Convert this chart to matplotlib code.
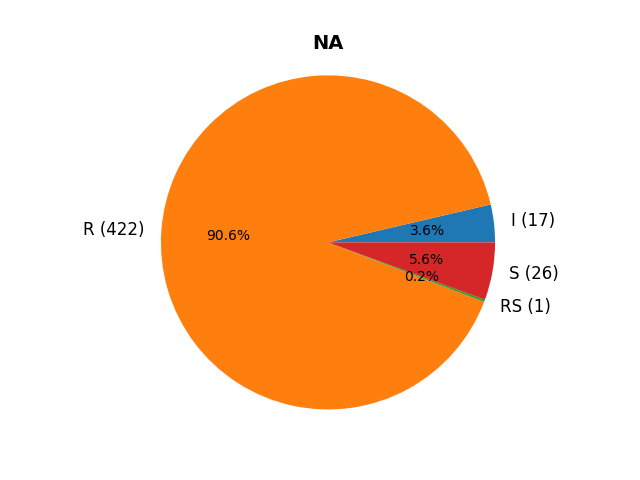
import matplotlib
matplotlib.use("Agg")
import matplotlib.pyplot as plt

categories = ["I", "R", "RS", "S"]
counts = [17, 422, 1, 26]
title = "NA"

labels = [f"{c} ({n})" for c, n in zip(categories, counts)]

fig, ax = plt.subplots(figsize=(6.4, 4.8), dpi=100)
ax.pie(counts, labels=labels, autopct="%1.1f%%", radius=1.13,
       textprops={"fontsize": 10})
for t in ax.texts:
    if "%" not in t.get_text():
        t.set_fontsize(12)
ax.set_title(title, fontsize=14, fontweight="bold")
plt.savefig("out.png", dpi=100)
